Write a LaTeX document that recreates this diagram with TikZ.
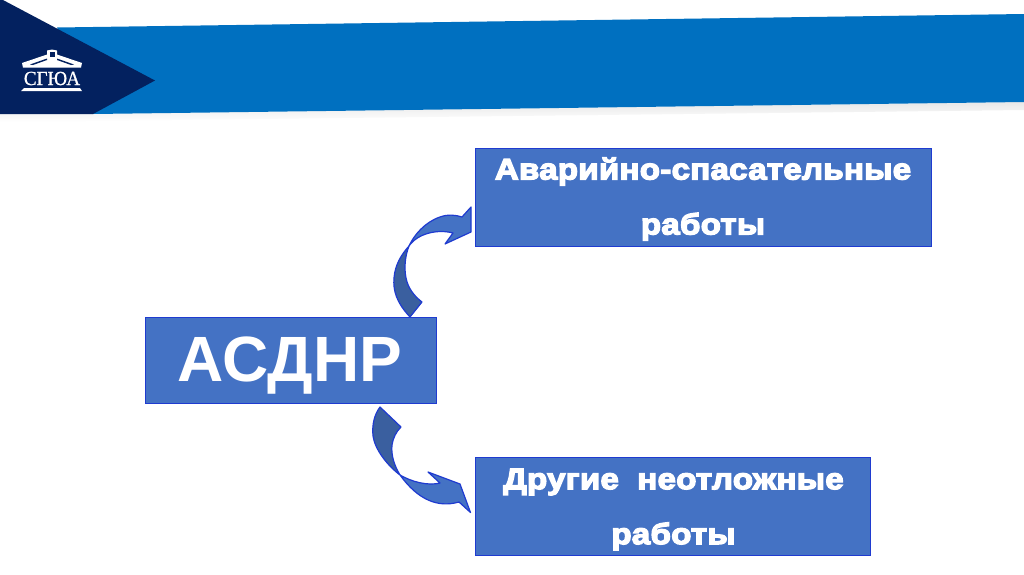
\documentclass[tikz,border=0pt]{standalone}
\usepackage{fontspec}
\setmainfont{Liberation Sans}
\newfontfamily\blk[FakeBold=4.5,FakeStretch=1.12,LetterSpace=1]{Liberation Sans Bold}
\newfontfamily\largefont{Liberation Sans Bold}
\newfontfamily\logofont[FakeBold=0.8,FakeStretch=0.95]{Liberation Serif}
\definecolor{box}{HTML}{4472C4}
\definecolor{boxdark}{HTML}{3A5F9F}
\definecolor{edge}{HTML}{1F3BD0}
\definecolor{band}{HTML}{0070C0}
\definecolor{navy}{HTML}{03215F}
\tikzset{
  boxnode/.style={draw=edge,fill=box,line width=0.8pt,inner sep=0pt,text=white,align=center,anchor=north west},
  small/.style={font=\blk\fontsize{29.5}{55}\selectfont},
  arrowup/.style={draw=edge,fill=box,line width=1.2pt,line join=round},
  arrowlow/.style={draw=edge,fill=boxdark,line width=1.2pt,line join=round}
}
\begin{document}
\begin{tikzpicture}[x=1pt,y=-1pt]
\useasboundingbox (0,0) rectangle (1024,574);
\fill[white] (0,0) rectangle (1024,574);
% shadow under the band
\shade[top color=black!9,bottom color=white] (0,114) -- (93,114) -- (1024,102) -- (1024,110) -- (0,122) -- cycle;
\fill[band] (57,27.5) -- (1024,14) -- (1024,102) -- (93,114) -- cycle;
\fill[navy] (0,0) -- (3,0) -- (155,80.5) -- (93,114) -- (0,114) -- cycle;
% logo
\fill[white] (22,63) -- (47,54.5) -- (47,50.5) -- (52,49.5) -- (57,50.5) -- (57,54.5) -- (82,63) -- (81,67.5) -- (23,67.5) -- cycle;
\fill[navy] (30,64.5) -- (47,58.5) -- (47,60) -- (33,65) -- cycle;
\fill[navy] (74,64.5) -- (57,58.5) -- (57,60) -- (71,65) -- cycle;
\fill[navy] (49.5,52) rectangle (54.5,57);
\node[text=white,font=\logofont\fontsize{20}{20}\selectfont,inner sep=0pt] (logo) at (52,78.5) {СГЮА};
\fill[white] (24,88) -- (80,88) -- (82,91) -- (21,91) -- cycle;
% boxes
\node[boxnode,minimum width=456pt,minimum height=98pt] (rescue) at (475,148) {};
\node[boxnode,minimum width=395pt,minimum height=98pt] (other) at (475,457) {};
\node[boxnode,minimum width=291pt,minimum height=86pt] (asdnr) at (145,317) {};
\node[text=white,font=\largefont\fontsize{64}{64}\selectfont,inner sep=0pt] (asdnrt) at (290,366) {АСДНР};
\node[text=white,small,inner sep=0pt,align=center] (rescuet) at (703,199) {Аварийно-спасательные\\работы};
\node[text=white,small,inner sep=0pt,align=center] (othert) at (673.5,509.5) {Другие\hspace{9pt} неотложные\\работы};
% upper block arrow
\path[arrowlow] (410,317) .. controls (396,302) and (393,290) .. (394,278) .. controls (395,265) and (401,255) .. (409,246)
  .. controls (405,256) and (404,268) .. (406,278) .. controls (408,288) and (414,296) .. (422,302) -- cycle;
\path[arrowup] (409,246) .. controls (414,235) and (425,222) .. (440,217) .. controls (448,214) and (456,215) .. (462,217)
  -- (471,207) -- (471,232) -- (445,244) -- (453,233) .. controls (438,229) and (418,233) .. (409,246) -- cycle;
% lower block arrow
\path[arrowlow] (380,407) .. controls (374,415) and (372,425) .. (373,436) .. controls (375,450) and (388,466) .. (400,475)
  .. controls (394,465) and (391,455) .. (392,445) .. controls (393,438) and (396,432) .. (401,427) -- cycle;
\path[arrowup] (400,475) .. controls (412,482) and (428,486) .. (440,483) -- (428,472) -- (460,484) -- (470.5,512.5) -- (459,502)
  .. controls (438,508) and (418,500) .. (400,475) -- cycle;
\end{tikzpicture}
\end{document}
